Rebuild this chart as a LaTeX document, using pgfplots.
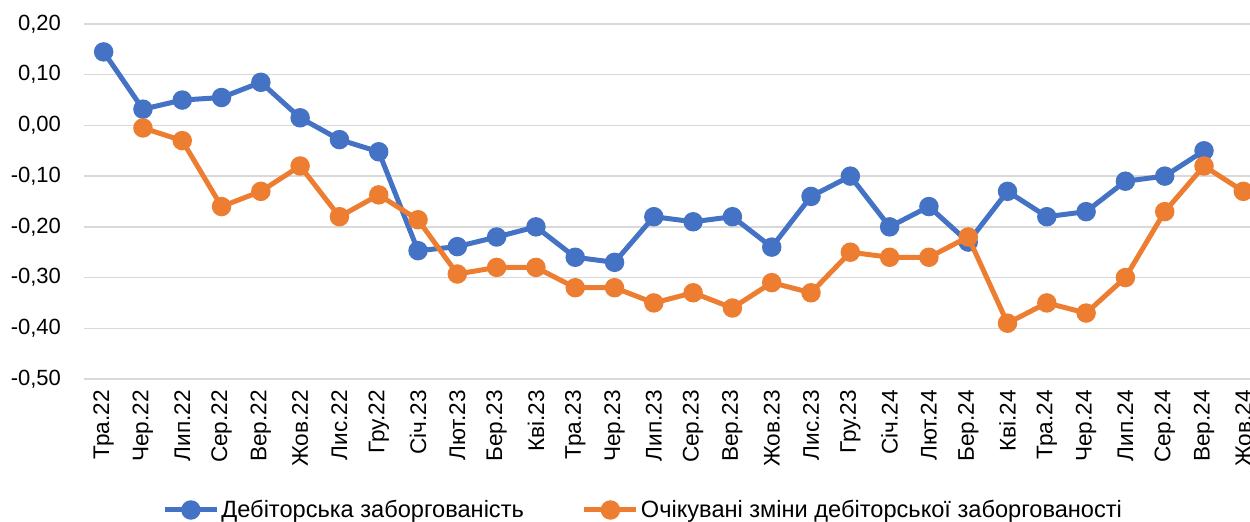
\documentclass[border=0pt]{standalone}
\usepackage{pgfplots}
\pgfplotsset{compat=1.18}
\usepackage{fontspec}
\setmainfont{Liberation Sans}
\definecolor{cblue}{HTML}{4472C4}
\definecolor{corange}{HTML}{ED7D31}
\definecolor{cgrid}{HTML}{D9D9D9}
\begin{document}
\begin{tikzpicture}
\begin{axis}[
  at={(0,0)}, anchor=south west,
  scale only axis,
  width=583pt, height=177.5pt,
  xmin=-0.5, xmax=29.17,
  ymin=-0.5, ymax=0.2,
  ytick={-0.5,-0.4,-0.3,-0.2,-0.1,0,0.1,0.2},
  xtick={0,...,29},
  xticklabels={Тра.22,Чер.22,Лип.22,Сер.22,Вер.22,Жов.22,Лис.22,Гру.22,Січ.23,Лют.23,Бер.23,Кві.23,Тра.23,Чер.23,Лип.23,Сер.23,Вер.23,Жов.23,Лис.23,Гру.23,Січ.24,Лют.24,Бер.24,Кві.24,Тра.24,Чер.24,Лип.24,Сер.24,Вер.24,Жов.24},
  x tick label style={rotate=90, anchor=east, font=\fontsize{11.3}{13}\selectfont},
  y tick label style={font=\fontsize{11}{13}\selectfont},
  xticklabel shift=2pt,
  yticklabel shift=8pt,
  axis line style={draw=none},
  major tick length=0pt,
  ymajorgrids,
  grid style={cgrid, line width=0.75pt},
  /pgf/number format/.cd, fixed, fixed zerofill, precision=2, use comma, assume math mode=true,
  /pgfplots/.cd,
  clip marker paths=true,
  legend columns=2,
  legend style={at={(0.0669,-0.369)}, anchor=west, draw=none, fill=none,
    font=\fontsize{11.8}{14}\selectfont,
    /tikz/every even column/.append style={column sep=28pt},
    nodes={inner sep=1pt},
    inner sep=0pt},
  legend image code/.code={\draw[mark repeat=2,mark phase=2,#1] plot coordinates {(0pt,0pt) (13pt,0pt) (26pt,0pt)};},
]
\addplot[cblue, line width=2.5pt, mark=*, mark size=3.6pt, mark options={solid}] coordinates {
(0,0.145) (1,0.032) (2,0.050) (3,0.055) (4,0.085) (5,0.015) (6,-0.028) (7,-0.052)
(8,-0.247) (9,-0.239) (10,-0.220) (11,-0.200) (12,-0.260) (13,-0.270) (14,-0.180)
(15,-0.190) (16,-0.180) (17,-0.240) (18,-0.140) (19,-0.100) (20,-0.200) (21,-0.160)
(22,-0.230) (23,-0.130) (24,-0.180) (25,-0.170) (26,-0.110) (27,-0.100) (28,-0.050)
};
\addlegendentry{Дебіторська заборгованість}
\addplot[corange, line width=2.5pt, mark=*, mark size=3.6pt, mark options={solid}] coordinates {
(1,-0.005) (2,-0.030) (3,-0.160) (4,-0.130) (5,-0.080) (6,-0.180) (7,-0.137)
(8,-0.186) (9,-0.293) (10,-0.280) (11,-0.280) (12,-0.320) (13,-0.320) (14,-0.350)
(15,-0.330) (16,-0.360) (17,-0.310) (18,-0.330) (19,-0.250) (20,-0.260) (21,-0.260)
(22,-0.220) (23,-0.390) (24,-0.350) (25,-0.370) (26,-0.300) (27,-0.170) (28,-0.080)
(29,-0.130)
};
\addlegendentry{Очікувані зміни дебіторської заборгованості}
\end{axis}
\pgfresetboundingbox
\useasboundingbox (-42pt,-71.5pt) rectangle (583pt,189.5pt);
\end{tikzpicture}
\end{document}
